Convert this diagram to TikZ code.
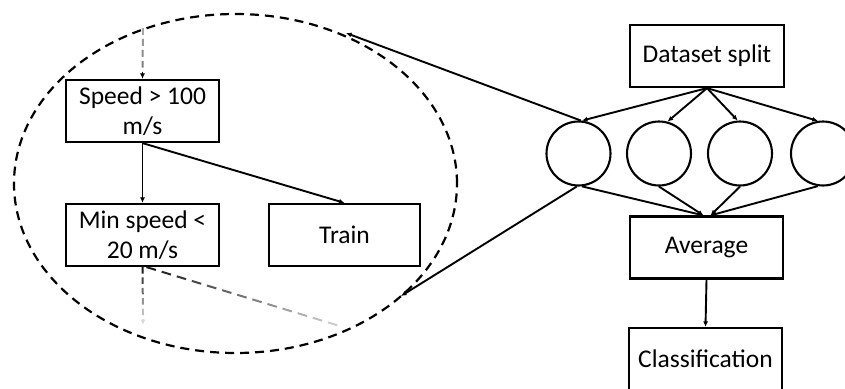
\documentclass[tikz,border=0pt]{standalone}
\usepackage{fontspec}
\setmainfont{Carlito}
\usetikzlibrary{arrows.meta,calc,shapes.geometric}
\newcommand\fadeline[5]{%
  \foreach \k in {1,...,#3}{%
    \pgfmathsetmacro\ta{(\k-1)/#3}%
    \pgfmathsetmacro\tb{(\k-0.38)/#3}%
    \pgfmathtruncatemacro\cc{#4+(#5-#4)*(\k-1)/max(#3-1,1)}%
    \draw[line width=2pt, black!\cc] ($(#1)!\ta!(#2)$) -- ($(#1)!\tb!(#2)$);
  }}
\begin{document}
\begin{tikzpicture}[x=1pt,y=-1pt,
  box/.style={draw, line width=2.2pt, inner sep=0pt, align=center,
    minimum width=153, minimum height=62,
    font=\fontsize{25.5}{30.5}\selectfont},
  ring/.style={draw, circle, line width=2.1pt, minimum size=64, inner sep=0pt},
  arr/.style={line width=1.9pt, -{Latex[length=5.5pt,width=5pt]}}]
\useasboundingbox (0,0) rectangle (845,388);

% zoom ellipse
\node[draw, ellipse, line width=2.2pt, dash pattern=on 9pt off 6pt,
  minimum width=443, minimum height=339, inner sep=0pt] (E) at (235.5,183.5) {};

% decision tree boxes
\node[box] (sp) at (142.5,111) {Speed > 100\\m/s};
\node[box] (ms) at (142.5,235) {Min speed <\\20 m/s};
\node[box, minimum width=151] (tr) at (344.5,235) {Train};

% right side
\node[box, minimum width=154] (ds) at (707,56) {Dataset split};
\node[ring] (c1) at (578.5,153.5) {};
\node[ring] (c2) at (659,153.5) {};
\node[ring] (c3) at (740,153.5) {};
\node[ring] (c4) at (823,153.5) {};
\node[box] (av) at (706.5,247.5) {Average};
\node[box] (cl) at (705.5,359) {Classification};

% faded dashed connectors
\coordinate (tin) at (143,28);
\coordinate (tinE) at ($(sp.north)+(0,-7)$);
\fadeline{tin}{tinE}{4}{35}{50}
\draw[arr] (tinE) -- (sp.north);

\coordinate (dn) at (143,325);
\coordinate (dnE) at ($(dn)+(0,-6)$);
\fadeline{ms.south}{dnE}{5}{90}{25}
\draw[arr, black!15] (dnE) -- (dn);

\coordinate (dg0) at ($(ms.south)+(4,0)$);
\coordinate (dg) at (343,327);
\fadeline{dg0}{dg}{13}{90}{20}

% tree connectors
\draw[arr] (sp.south) -- (ms.north);
\draw[arr] (sp.south) -- (tr.north);

% zoom lines
\coordinate (zt) at (346,33);
\coordinate (zb) at (401,296);
\draw[arr] (c1.86) -- (zt);
\draw[arr] (c1.-93) -- (zb);

% split arrows
\draw[arr] (ds.south) -- (c1.84);
\draw[arr] (ds.south) -- (c2.75);
\draw[arr] (ds.south) -- (c3.94);
\draw[arr] (ds.south) -- (c4.99);

% average arrows
\coordinate (avL) at ($(av.north)+(-3,0)$);
\coordinate (avR) at ($(av.north)+(4,0)$);
\draw[arr] (c1.-84) -- (avL);
\draw[arr] (c2.south) -- (avL);
\draw[arr] (c3.south) -- (avR);
\draw[arr] (c4.-99) -- (avR);

\draw[arr] (av.south) -- (cl.north);
\end{tikzpicture}
\end{document}
